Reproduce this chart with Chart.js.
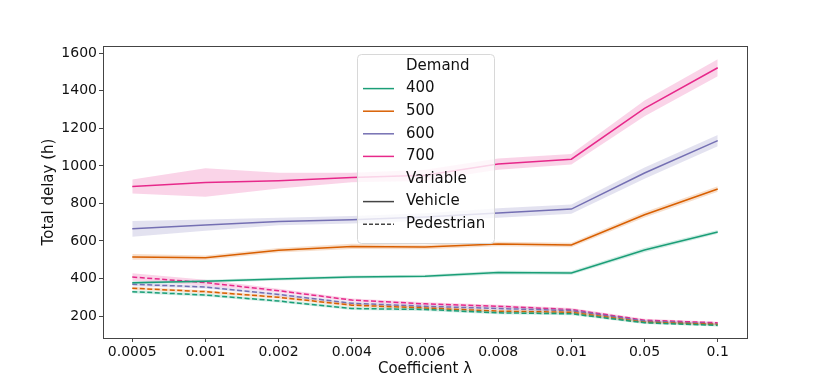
<!DOCTYPE html>
<html>
<head>
<meta charset="utf-8">
<script src="https://cdn.jsdelivr.net/npm/chart.js@4.4.0/dist/chart.umd.min.js"></script>
<style>
  html, body { margin: 0; padding: 0; background: #fff; }
  #wrap { width: 830px; height: 388px; }
</style>
</head>
<body>
<div id="wrap"><canvas id="delayChart" width="830" height="388"></canvas></div>
<script>
// x categories (coefficient lambda)
const coefficients = ['0.0005', '0.001', '0.002', '0.004', '0.006', '0.008', '0.01', '0.05', '0.1'];
const demands = ['400', '500', '600', '700'];
const demandColors = ['#1b9e77', '#d95f02', '#7570b3', '#e7298a'];
const yTicks = [200, 400, 600, 800, 1000, 1200, 1400, 1600];

// Vehicle delay (solid lines)
const vehicle400 = [377, 385, 398, 408, 412, 432, 430, 552, 648];
const vehicle500 = [515, 510, 550, 571, 568, 584, 579, 740, 877];
const vehicle600 = [665, 685, 704, 713, 728, 749, 770, 962, 1135];
const vehicle700 = [890, 912, 921, 938, 950, 1010, 1036, 1307, 1523];

// Pedestrian delay (dashed lines)
const pedestrian400 = [330, 312, 280, 240, 235, 217, 212, 164, 150];
const pedestrian500 = [348, 330, 300, 258, 243, 226, 220, 167, 155];
const pedestrian600 = [369, 355, 315, 268, 252, 240, 229, 173, 158];
const pedestrian700 = [408, 378, 335, 285, 265, 252, 235, 178, 164];

// half width of the confidence bands
const vehicleBand400 = [8, 8, 8, 8, 8, 10, 10, 12, 10];
const vehicleBand500 = [15, 12, 12, 14, 12, 12, 12, 15, 15];
const vehicleBand600 = [42, 30, 20, 20, 20, 25, 25, 30, 30];
const vehicleBand700 = [37, 76, 42, 25, 30, 30, 28, 42, 45];
const pedestrianBand400 = [8, 8, 8, 8, 8, 8, 8, 6, 6];
const pedestrianBand500 = [8, 8, 8, 8, 8, 8, 8, 6, 6];
const pedestrianBand600 = [10, 8, 8, 8, 8, 8, 8, 6, 6];
const pedestrianBand700 = [20, 15, 10, 8, 8, 8, 8, 8, 6];

const vehicleSeries = [vehicle400, vehicle500, vehicle600, vehicle700];
const pedestrianSeries = [pedestrian400, pedestrian500, pedestrian600, pedestrian700];
const vehicleBands = [vehicleBand400, vehicleBand500, vehicleBand600, vehicleBand700];
const pedestrianBands = [pedestrianBand400, pedestrianBand500, pedestrianBand600, pedestrianBand700];

function withAlpha(hex, a) {
  const r = parseInt(hex.slice(1, 3), 16);
  const g = parseInt(hex.slice(3, 5), 16);
  const b = parseInt(hex.slice(5, 7), 16);
  return `rgba(${r},${g},${b},${a})`;
}

function toPoints(values) {
  return values.map((v, i) => ({ x: i, y: v }));
}

function addSeries(datasets, values, band, color, dashed) {
  // lower edge of the band, then upper edge filled back to it
  datasets.push({
    data: toPoints(values.map((v, i) => v - band[i])),
    borderWidth: 0, pointRadius: 0, fill: false, borderColor: 'rgba(0,0,0,0)'
  });
  datasets.push({
    data: toPoints(values.map((v, i) => v + band[i])),
    borderWidth: 0, pointRadius: 0, fill: '-1', borderColor: 'rgba(0,0,0,0)',
    backgroundColor: withAlpha(color, 0.2)
  });
  datasets.push({
    data: toPoints(values),
    borderColor: color,
    borderWidth: 1.5,
    borderDash: dashed ? [5, 2.5] : [],
    pointRadius: 0,
    fill: false,
    tension: 0
  });
}

const datasets = [];
for (let i = 0; i < demands.length; i++) {
  addSeries(datasets, vehicleSeries[i], vehicleBands[i], demandColors[i], false);
}
for (let i = 0; i < demands.length; i++) {
  addSeries(datasets, pedestrianSeries[i], pedestrianBands[i], demandColors[i], true);
}

// legend rows: [label, color, dash] ; null color = title row without handle
const legendRows = [['Demand', null, null]]
  .concat(demands.map((d, i) => [d, demandColors[i], []]))
  .concat([['Variable', null, null], ['Vehicle', '#444', []], ['Pedestrian', '#444', [4, 2]]]);

const framePlugin = {
  id: 'frame',
  afterDraw(chart) {
    const ctx = chart.ctx;
    const a = chart.chartArea;
    ctx.save();
    ctx.strokeStyle = '#444';
    ctx.lineWidth = 1;
    ctx.strokeRect(a.left + 0.5, a.top + 0.5, a.right - a.left, a.bottom - a.top);

    // legend box
    const bx = 357, by = 54, bw = 137, bh = 189;
    ctx.beginPath();
    ctx.roundRect(bx + 0.5, by + 0.5, bw, bh, 4);
    ctx.fillStyle = 'rgba(255,255,255,0.8)';
    ctx.fill();
    ctx.strokeStyle = '#d8d8d8';
    ctx.stroke();

    ctx.font = '15px "DejaVu Sans"';
    ctx.textBaseline = 'middle';
    ctx.fillStyle = '#111';
    legendRows.forEach((row, k) => {
      const y = 66 + k * 22.6;
      if (row[1]) {
        ctx.beginPath();
        ctx.setLineDash(row[2]);
        ctx.strokeStyle = row[1];
        ctx.lineWidth = 1.5;
        ctx.moveTo(363, y);
        ctx.lineTo(394, y);
        ctx.stroke();
        ctx.setLineDash([]);
      }
      ctx.fillText(row[0], 406, y);
    });
    ctx.restore();
  }
};

const tickFont = { family: 'DejaVu Sans', size: 14 };
const titleFont = { family: 'DejaVu Sans', size: 15 };

const chart = new Chart(document.getElementById('delayChart').getContext('2d'), {
  type: 'line',
  data: { datasets: datasets },
  options: {
    responsive: false,
    animation: false,
    devicePixelRatio: 1,
    layout: { padding: { left: 0, right: 83, top: 46, bottom: 0 } },
    plugins: { legend: { display: false }, tooltip: { enabled: false } },
    scales: {
      x: {
        type: 'linear',
        min: -0.4,
        max: 8.4,
        afterFit: scale => { scale.height = 50; },
        grid: { drawOnChartArea: false, drawTicks: true, tickLength: 4, color: '#444' },
        border: { display: true, color: '#444', width: 1 },
        ticks: {
          stepSize: 1,
          includeBounds: false,
          autoSkip: false,
          maxRotation: 0,
          padding: 2,
          color: '#111',
          font: tickFont,
          callback: v => coefficients[v] || ''
        },
        title: { display: true, text: 'Coefficient λ', color: '#111', font: titleFont, padding: { top: 0, bottom: 10 } }
      },
      y: {
        min: 83,
        max: 1639,
        afterFit: scale => { scale.width = 103; },
        afterBuildTicks: scale => { scale.ticks = yTicks.map(v => ({ value: v })); },
        grid: { drawOnChartArea: false, drawTicks: true, tickLength: 4, color: '#444' },
        border: { display: true, color: '#444', width: 1 },
        ticks: { padding: 2, color: '#111', font: tickFont, callback: v => String(v) },
        title: { display: true, text: 'Total delay (h)', color: '#111', font: titleFont, padding: { top: 40, bottom: 0 } }
      }
    }
  },
  plugins: [framePlugin]
});
</script>
</body>
</html>
